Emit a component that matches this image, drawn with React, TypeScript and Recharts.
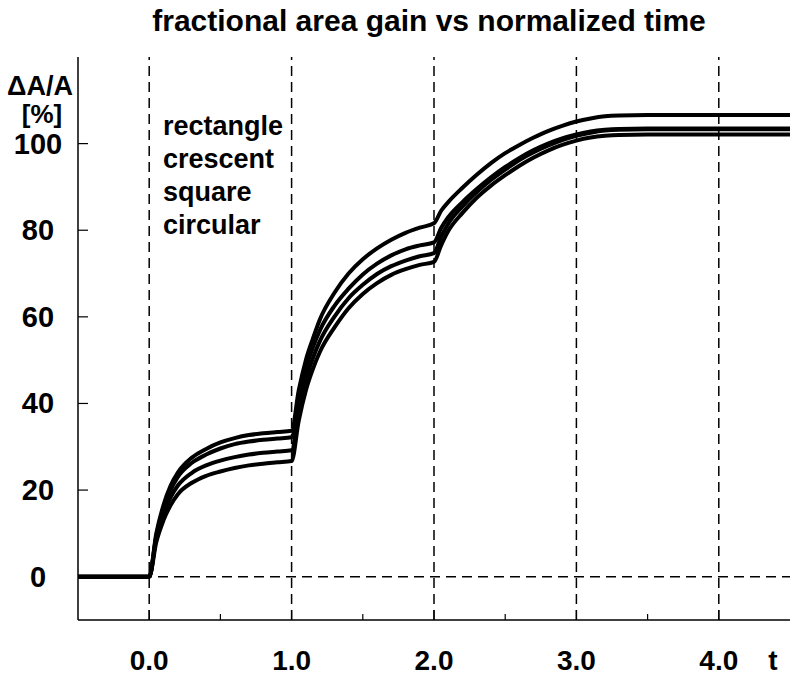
import { Line, LineChart, ReferenceLine, XAxis, YAxis } from "recharts";

const T = [
  -0.5, 0, 0.05, 0.1, 0.15, 0.2, 0.3, 0.4, 0.5, 0.6, 0.7, 0.8, 0.9, 1.0,
  1.05, 1.1, 1.15, 1.2, 1.3, 1.4, 1.5, 1.6, 1.7, 1.8, 1.9, 2.0,
  2.05, 2.1, 2.2, 2.3, 2.4, 2.5, 2.6, 2.7, 2.8, 2.9, 3.0,
  3.1, 3.2, 3.3, 3.5, 4.0, 4.5,
];

const RECTANGLE = [
  0, 0, 10, 16.5, 21, 24, 27.5, 29.5, 31, 32, 32.7, 33.1, 33.4, 33.7,
  43, 50, 55, 59.5, 65.5, 70, 73.3, 75.8, 77.8, 79.4, 80.6, 81.6,
  84.5, 86.5, 89.8, 92.8, 95.5, 97.8, 99.7, 101.4, 102.9, 104.1, 105.1,
  105.8, 106.3, 106.5, 106.6, 106.6, 106.6,
];
const CRESCENT = [
  0, 0, 9.5, 15.5, 20, 23, 26.3, 28.2, 29.6, 30.6, 31.2, 31.6, 31.9, 32.2,
  41.5, 48, 53, 57, 62.5, 66.5, 69.8, 72.3, 74.2, 75.6, 76.5, 77.2,
  80.5, 83, 86.5, 89.5, 92.2, 94.6, 96.7, 98.5, 100, 101.2, 102.1,
  102.8, 103.2, 103.4, 103.5, 103.5, 103.5,
];
const SQUARE = [
  0, 0, 9, 14.5, 18.3, 21, 24, 25.7, 26.8, 27.6, 28.2, 28.6, 28.9, 29.2,
  38.5, 45.5, 50.5, 54.5, 60, 64.3, 67.4, 69.9, 71.7, 73, 74, 74.7,
  78.5, 81.5, 85.5, 88.8, 91.6, 94.0, 96.2, 98.0, 99.5, 100.8, 101.8,
  102.5, 103.0, 103.2, 103.3, 103.3, 103.3,
];
const CIRCULAR = [
  0, 0, 8, 13, 16.5, 19, 21.7, 23.3, 24.3, 25.1, 25.7, 26.1, 26.4, 26.7,
  36, 43, 48, 52, 57.5, 62, 65.3, 67.8, 69.7, 71.0, 72.0, 72.7,
  76.5, 79.8, 84, 87.5, 90.3, 92.7, 94.9, 96.8, 98.4, 99.7, 100.7,
  101.4, 101.8, 102.0, 102.1, 102.1, 102.1,
];

const LEGEND = ["rectangle", "crescent", "square", "circular"];
const X_TICKS = [0, 0.5, 1, 1.5, 2, 2.5, 3, 3.5, 4];
const Y_TICKS = [0, 20, 40, 60, 80, 100];
const GRID_X = [0, 1, 2, 3, 4];

const data = T.map((t, i) => ({
  t,
  rectangle: RECTANGLE[i],
  crescent: CRESCENT[i],
  square: SQUARE[i],
  circular: CIRCULAR[i],
}));

const FONT = "'Liberation Sans', Arial, sans-serif";

const BottomTick = ({ x, y, payload }: any) => {
  const major = Number.isInteger(payload.value);
  return (
    <g>
      <line x1={x} y1={y} x2={x} y2={y - (major ? 10 : 6)} stroke="#000" strokeWidth={1.2} />
      {major && (
        <text x={x} y={y + 50} textAnchor="middle" fontFamily={FONT} fontWeight="bold" fontSize={28} fill="#000">
          {payload.value.toFixed(1)}
        </text>
      )}
    </g>
  );
};

const TopTick = ({ x, y, payload }: any) => {
  const major = Number.isInteger(payload.value);
  return <line x1={x} y1={y} x2={x} y2={y + (major ? 10 : 6)} stroke="#000" strokeWidth={1.2} />;
};

// labels sit centred in the left gutter, like the source
const LeftTick = ({ x, y, payload }: any) => (
  <g>
    <line x1={x} y1={y} x2={x + 10} y2={y} stroke="#000" strokeWidth={1.2} />
    <text x={38} y={y + 10} textAnchor="middle" fontFamily={FONT} fontWeight="bold" fontSize={29} fill="#000">
      {payload.value}
    </text>
  </g>
);

const RightTick = ({ x, y }: any) => (
  <line x1={x} y1={y} x2={x - 10} y2={y} stroke="#000" strokeWidth={1.2} />
);

export default function App() {
  return (
    <div style={{ position: "absolute", left: 0, top: 0, width: 800, height: 675, background: "#fff" }}>
      <LineChart width={800} height={675} data={data} margin={{ top: 57, right: 10, bottom: 0, left: 0 }}>
        <XAxis
          dataKey="t"
          type="number"
          domain={[-0.5, 4.5]}
          ticks={X_TICKS}
          height={55}
          tickSize={0}
          tickMargin={0}
          tickLine={false}
          axisLine={{ stroke: "#000", strokeWidth: 1.5 }}
          tick={<BottomTick />}
          interval={0}
        />
        <XAxis
          xAxisId="top"
          orientation="top"
          dataKey="t"
          type="number"
          domain={[-0.5, 4.5]}
          ticks={X_TICKS}
          height={0}
          tickSize={0}
          tickMargin={0}
          tickLine={false}
          axisLine={{ stroke: "#000", strokeWidth: 1.5 }}
          tick={<TopTick />}
          interval={0}
        />
        <YAxis
          type="number"
          domain={[-10, 120]}
          ticks={Y_TICKS}
          width={78}
          tickSize={0}
          tickMargin={0}
          tickLine={false}
          axisLine={{ stroke: "#000", strokeWidth: 1.5 }}
          tick={<LeftTick />}
          interval={0}
        />
        <YAxis
          yAxisId="right"
          orientation="right"
          type="number"
          domain={[-10, 120]}
          ticks={Y_TICKS}
          width={0}
          tickSize={0}
          tickMargin={0}
          tickLine={false}
          axisLine={{ stroke: "#000", strokeWidth: 1.5 }}
          tick={<RightTick />}
          interval={0}
        />
        {GRID_X.map((gx) => (
          <ReferenceLine key={gx} x={gx} stroke="#000" strokeWidth={1.5} strokeDasharray="10 6" />
        ))}
        <ReferenceLine y={0} stroke="#000" strokeWidth={1.5} strokeDasharray="10 6" />
        {LEGEND.map((name) => (
          <Line
            key={name}
            dataKey={name}
            type="monotone"
            stroke="#000"
            strokeWidth={4}
            dot={false}
            isAnimationActive={false}
          />
        ))}
      </LineChart>
      <svg width={800} height={675} style={{ position: "absolute", left: 0, top: 0, pointerEvents: "none" }}>
        <g fontFamily={FONT} fontWeight="bold" fill="#000">
          <text x={429} y={31} textAnchor="middle" fontSize={30}>
            fractional area gain vs normalized time
          </text>
          <text x={40} y={95} textAnchor="middle" fontSize={27}>
            ΔA/A
          </text>
          <text x={42} y={123} textAnchor="middle" fontSize={26}>
            [%]
          </text>
          <text x={773} y={670} textAnchor="middle" fontSize={28}>
            t
          </text>
          {LEGEND.map((name, i) => (
            <text key={name} x={163} y={135 + i * 33} fontSize={27}>
              {name}
            </text>
          ))}
        </g>
      </svg>
    </div>
  );
}
